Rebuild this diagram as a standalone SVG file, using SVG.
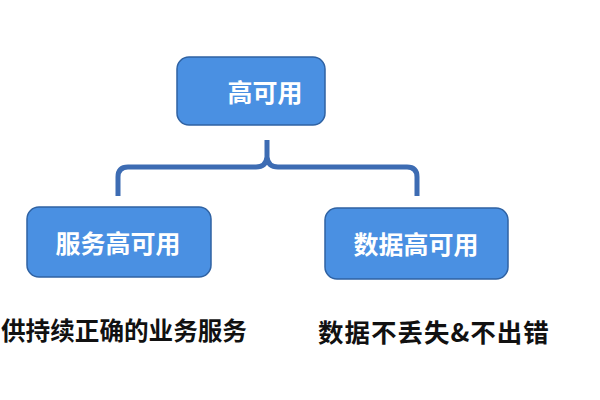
<svg xmlns="http://www.w3.org/2000/svg" width="600" height="400" viewBox="0 0 600 400">
<style>
.box{fill:#4a90e2;stroke:#2f62a3;stroke-width:1.5}
.lbl{font-family:"Noto Sans CJK SC","Noto Sans",sans-serif;font-weight:bold;font-size:25px;fill:#ffffff;text-anchor:middle;dominant-baseline:central}
.cap{font-family:"Noto Sans CJK SC","Noto Sans",sans-serif;font-weight:bold;font-size:24.6px;fill:#111111;dominant-baseline:central}
.brace{fill:none;stroke:#3d6cb3;stroke-width:5;stroke-linecap:butt;stroke-linejoin:round}
</style>
<rect width="600" height="400" fill="#ffffff"/>
<g id="connectors">
<path class="brace" d="M118,196 V177 Q118,167 128,167 H256 Q266,167 267,157 Q268,167 278,167 H407 Q417,167 417,177 V196 M267,159 V140"/>
</g>
<g id="node-top">
<rect class="box" x="177" y="57" width="148" height="68" rx="12"/>
<text class="lbl" x="265" y="91">高可用</text>
</g>
<g id="node-service">
<rect class="box" x="27" y="207" width="184" height="70" rx="12"/>
<text class="lbl" x="118" y="242">服务高可用</text>
</g>
<g id="node-data">
<rect class="box" x="325" y="208" width="183" height="71" rx="12"/>
<text class="lbl" x="416" y="243">数据高可用</text>
</g>
<g id="captions">
<text class="cap" x="1" y="329">供持续正确的业务服务</text>
<text class="cap" x="318" y="330" style="font-size:25.5px;letter-spacing:1px">数据不丢失&amp;不出错</text>
</g>
</svg>
